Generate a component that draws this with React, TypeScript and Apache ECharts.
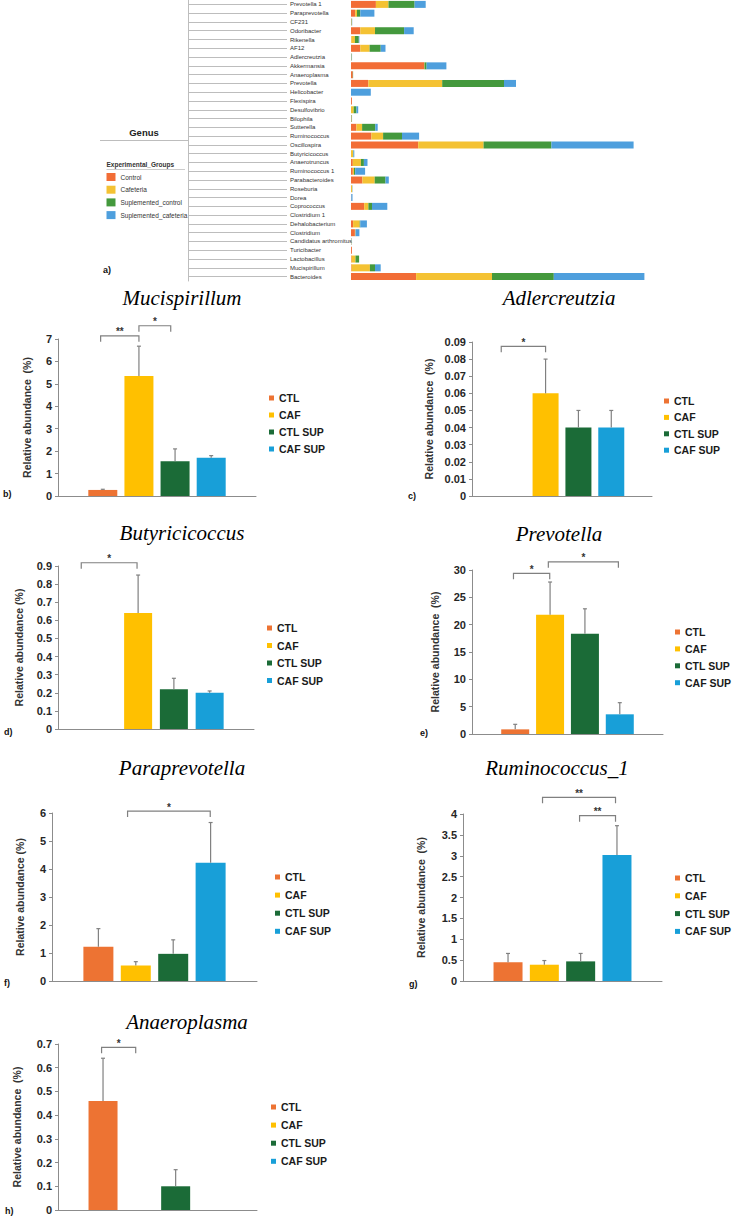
import React, { useEffect, useRef } from 'react';
import * as echarts from 'echarts';

// ---------- Panel a: stacked genus abundances ----------
const genera = ['Prevotella 1', 'Paraprevotella', 'CF231', 'Odoribacter', 'Rikenella', 'AF12', 'Adlercreutzia', 'Akkermansia', 'Anaeroplasma', 'Prevotella', 'Helicobacter', 'Flexispira', 'Desulfovibrio', 'Bilophila', 'Sutterella', 'Ruminococcus', 'Oscillospira', 'Butyricicoccus', 'Anaerotruncus', 'Ruminococcus 1', 'Parabacteroides', 'Roseburia', 'Dorea', 'Coprococcus', 'Clostridium 1', 'Dehalobacterium', 'Clostridium', 'Candidatus arthromitus', 'Turicibacter', 'Lactobacillus', 'Mucispirillum', 'Bacteroides'];
const genusControl = [8.3, 1.4, 0.1, 3.1, 0.1, 3.1, 0.05, 24.4, 0.6, 5.8, 0, 0.3, 0, 0.1, 1.8, 6.8, 22.4, 0, 0.6, 0.6, 3.8, 0, 0.1, 4.4, 0, 0.7, 1.3, 0.05, 0.3, 0.2, 0.2, 21.7];
const genusCafeteria = [4.2, 0.6, 0.1, 4.9, 1.2, 3.1, 0.1, 0.1, 0, 24.6, 0, 0, 0.9, 0.1, 1.9, 3.9, 21.8, 0.7, 2.7, 0.4, 4.1, 0.4, 0, 1.4, 0, 2.2, 0.2, 0.05, 0, 1.3, 6.1, 25.3];
const genusSupControl = [8.7, 1.1, 0.1, 9.7, 1.3, 3.7, 0.1, 0.7, 0.1, 20.6, 0, 0, 0.9, 0.1, 4.4, 6.3, 22.6, 0.1, 1.0, 0.4, 3.6, 0, 0, 1.2, 0, 0.2, 0, 0.05, 0, 1.2, 1.7, 20.6];
const genusSupCafeteria = [3.7, 4.7, 0.1, 3.2, 0.2, 1.6, 0.1, 6.6, 0, 4.0, 6.6, 0, 0.6, 0.05, 0.8, 5.7, 27.4, 0.3, 1.2, 3.3, 1.1, 0.1, 0.4, 5.1, 0, 2.2, 1.3, 0.05, 0, 0, 1.9, 30.2];
const experimentalGroups = ['Control', 'Cafeteria', 'Suplemented_control', 'Suplemented_cafeteria'];
const experimentalColors = ['#F26D36', '#F4C233', '#44993D', '#4E9FDD'];

// ---------- Panels b-h: group means and SD ----------
const groups = ['CTL', 'CAF', 'CTL SUP', 'CAF SUP'];
const groupColors = ['#ED7333', '#FFC000', '#1B6B37', '#189FD8'];

const mucispirillumMean = [0.27, 5.35, 1.55, 1.71];
const mucispirillumSd = [0.03, 1.33, 0.55, 0.09];
const mucispirillumSig: [number, number, number, string][] = [[-0.06, 1, 7.14, '**'], [1, 1.88, 7.59, '*']];

const adlercreutziaMean = [0, 0.06, 0.04, 0.04];
const adlercreutziaSd = [0, 0.02, 0.01, 0.01];
const adlercreutziaSig: [number, number, number, string][] = [[-0.35, 1, 0.0875, '*']];

const butyricicoccusMean = [0, 0.64, 0.22, 0.2];
const butyricicoccusSd = [0, 0.21, 0.06, 0.01];
const butyricicoccusSig: [number, number, number, string][] = [[-0.59, 0.97, 0.918, '*']];

const prevotellaMean = [0.85, 21.8, 18.35, 3.6];
const prevotellaSd = [0.92, 6.0, 4.55, 2.13];
const prevotellaSig: [number, number, number, string][] = [[-0.05, 0.99, 29.4, '*'], [0.95, 2.96, 31.5, '*']];

const paraprevotellaMean = [1.22, 0.55, 0.97, 4.22];
const paraprevotellaSd = [0.65, 0.14, 0.5, 1.44];
const paraprevotellaSig: [number, number, number, string][] = [[0.78, 2.99, 6.07, '*']];

const ruminococcus1Mean = [0.45, 0.39, 0.47, 3.02];
const ruminococcus1Sd = [0.21, 0.1, 0.19, 0.7];
const ruminococcus1Sig: [number, number, number, string][] = [[0.95, 2.96, 4.4, '**'], [1.97, 2.96, 3.96, '**']];

const anaeroplasmaMean = [0.46, 0, 0.1, 0];
const anaeroplasmaSd = [0.18, 0, 0.07, 0];
const anaeroplasmaSig: [number, number, number, string][] = [[-0.04, 0.9, 0.686, '*']];

const SANS = "'Liberation Sans', Arial, sans-serif";
const SERIF = "'Liberation Serif', 'Times New Roman', serif";
const AXIS_GRAY = '#8C8C8C';
const ERR_GRAY = '#808080';

interface Panel {
  title: string; titlePos: [number, number];
  mean: number[]; sd: number[]; sig: [number, number, number, string][];
  yMax: number; yInterval: number; yName: string; nameGap: number;
  grid: { left: number; top: number; width: number; height: number };
  legend: [number, number, number];
  letter: string; letterPos: [number, number];
}

const panels: Panel[] = [
  { title: 'Mucispirillum', titlePos: [182, 298], mean: mucispirillumMean, sd: mucispirillumSd, sig: mucispirillumSig, yMax: 7, yInterval: 1, yName: 'Relative abundance  (%)', nameGap: 26, grid: { left: 58, top: 339, width: 198, height: 157 }, legend: [279, 398, 17], letter: 'b)', letterPos: [3, 494] },
  { title: 'Adlercreutzia', titlePos: [559, 298], mean: adlercreutziaMean, sd: adlercreutziaSd, sig: adlercreutziaSig, yMax: 0.09, yInterval: 0.01, yName: 'Relative abundance  (%)', nameGap: 38, grid: { left: 472, top: 342, width: 180, height: 154 }, legend: [674, 401, 16.4], letter: 'c)', letterPos: [408, 496] },
  { title: 'Butyricicoccus', titlePos: [182, 533], mean: butyricicoccusMean, sd: butyricicoccusSd, sig: butyricicoccusSig, yMax: 0.9, yInterval: 0.1, yName: 'Relative abundance (%)', nameGap: 33.5, grid: { left: 58, top: 566, width: 196, height: 163 }, legend: [277, 628, 17.5], letter: 'd)', letterPos: [4, 732] },
  { title: 'Prevotella', titlePos: [559, 534], mean: prevotellaMean, sd: prevotellaSd, sig: prevotellaSig, yMax: 30, yInterval: 5, yName: 'Relative abundance  (%)', nameGap: 32, grid: { left: 472, top: 570, width: 191, height: 164 }, legend: [685, 632, 16.9], letter: 'e)', letterPos: [420, 733] },
  { title: 'Paraprevotella', titlePos: [182, 768], mean: paraprevotellaMean, sd: paraprevotellaSd, sig: paraprevotellaSig, yMax: 6, yInterval: 1, yName: 'Relative abundance (%)', nameGap: 27, grid: { left: 52, top: 813, width: 205, height: 168 }, legend: [285, 877, 18.1], letter: 'f)', letterPos: [4, 983] },
  { title: 'Ruminococcus_1', titlePos: [557, 768], mean: ruminococcus1Mean, sd: ruminococcus1Sd, sig: ruminococcus1Sig, yMax: 4, yInterval: 0.5, yName: 'Relative abundance  (%)', nameGap: 37, grid: { left: 463, top: 814, width: 199, height: 167 }, legend: [685, 878, 17.8], letter: 'g)', letterPos: [409, 984] },
  { title: 'Anaeroplasma', titlePos: [187, 1022], mean: anaeroplasmaMean, sd: anaeroplasmaSd, sig: anaeroplasmaSig, yMax: 0.7, yInterval: 0.1, yName: 'Relative abundance  (%)', nameGap: 36, grid: { left: 58, top: 1044, width: 199, height: 166 }, legend: [281, 1107, 18.1], letter: 'h)', letterPos: [5, 1211] },
];

const X_MIN = -1.24;
const X_MAX = 4.24;

function buildOption() {
  const title: any[] = [];
  const legend: any[] = [];
  const grid: any[] = [];
  const xAxis: any[] = [];
  const yAxis: any[] = [];
  const series: any[] = [];
  const graphic: any[] = [];

  // ---- panel a ----
  grid.push({ left: 351, top: 0, width: 300, height: 281 });
  xAxis.push({ gridIndex: 0, type: 'value', min: 0, max: 100, show: false });
  yAxis.push({
    gridIndex: 0, type: 'category', data: genera, inverse: true, position: 'left',
    axisLine: { show: false }, axisTick: { show: false }, splitLine: { show: false },
    axisLabel: { interval: 0, align: 'left', margin: 61, fontSize: 6, color: '#333', fontFamily: SANS },
  });
  yAxis.push({
    gridIndex: 0, type: 'category', data: genera, inverse: true, position: 'left', offset: 163,
    axisLine: { show: true, onZero: false, lineStyle: { color: '#BDBDBD', width: 1 } },
    axisTick: { show: true, inside: true, alignWithLabel: true, interval: 0, length: 99, lineStyle: { color: '#BDBDBD', width: 1 } },
    axisLabel: { show: false }, splitLine: { show: false },
  });
  const genusSeries = [genusControl, genusCafeteria, genusSupControl, genusSupCafeteria];
  genusSeries.forEach((vals, i) => {
    series.push({
      type: 'bar', name: experimentalGroups[i], stack: 'genus', xAxisIndex: 0, yAxisIndex: 0,
      data: vals, barWidth: 7, itemStyle: { color: experimentalColors[i] },
    });
  });
  legend.push({
    orient: 'vertical', left: 106.5, top: 173, itemWidth: 9, itemHeight: 8, itemGap: 4.7,
    padding: 0, selectedMode: false, icon: 'rect', data: experimentalGroups,
    textStyle: { fontSize: 6.5, color: '#333', fontFamily: SANS, lineHeight: 8 },
  });
  graphic.push(
    { type: 'text', x: 144, y: 132, style: { text: 'Genus', font: `bold 9.5px ${SANS}`, fill: '#222', align: 'center', verticalAlign: 'middle' } },
    { type: 'line', shape: { x1: 100, y1: 140.5, x2: 188, y2: 140.5 }, style: { stroke: '#BDBDBD', lineWidth: 1 } },
    { type: 'text', x: 106.5, y: 164.5, style: { text: 'Experimental_Groups', font: `bold 6.5px ${SANS}`, fill: '#333', align: 'left', verticalAlign: 'middle' } },
    { type: 'line', shape: { x1: 106.5, y1: 169.5, x2: 185, y2: 169.5 }, style: { stroke: '#CCCCCC', lineWidth: 1 } },
    { type: 'text', x: 103, y: 270, style: { text: 'a)', font: `bold 9px ${SANS}`, fill: '#111', align: 'left', verticalAlign: 'middle' } },
  );

  // ---- panels b-h ----
  panels.forEach((p, k) => {
    const gi = k + 1;
    const xi = k + 1;
    const yi = k + 2;
    const band = p.grid.width / (X_MAX - X_MIN);
    const barWidth = Math.round(band * 0.79);

    title.push({
      text: p.title, left: p.titlePos[0], top: p.titlePos[1], textAlign: 'center', textVerticalAlign: 'middle', padding: 0,
      textStyle: { fontFamily: SERIF, fontStyle: 'italic', fontWeight: 'normal', fontSize: 21, color: '#000' },
    });
    grid.push({ ...p.grid });
    xAxis.push({
      gridIndex: gi, type: 'value', min: X_MIN, max: X_MAX,
      axisLine: { show: true, onZero: false, lineStyle: { color: AXIS_GRAY, width: 1 } },
      axisTick: { show: false }, axisLabel: { show: false }, splitLine: { show: false },
    });
    yAxis.push({
      gridIndex: gi, type: 'value', min: 0, max: p.yMax, interval: p.yInterval,
      name: p.yName, nameLocation: 'middle', nameGap: p.nameGap,
      nameTextStyle: { fontSize: 10.5, fontWeight: 'bold', color: '#333', fontFamily: SANS },
      axisLine: { show: true, onZero: false, lineStyle: { color: AXIS_GRAY, width: 1 } },
      axisTick: { show: true, length: 3, lineStyle: { color: AXIS_GRAY } },
      axisLabel: { fontSize: 11, fontWeight: 'bold', color: '#262626', margin: 6, fontFamily: SANS },
      splitLine: { show: false },
    });
    groups.forEach((g, i) => {
      series.push({
        type: 'bar', name: g, xAxisIndex: xi, yAxisIndex: yi,
        data: [[i, p.mean[i]]], barWidth, barGap: '-100%',
        itemStyle: { color: groupColors[i] },
      });
    });
    // error bars (upper only)
    const errData = p.mean.map((m, i) => [i, m, m + p.sd[i]]).filter((d) => d[2] > d[1]);
    series.push({
      type: 'custom', name: 'err' + k, xAxisIndex: xi, yAxisIndex: yi, silent: true, z: 5,
      encode: { x: 0, y: [1, 2] },
      data: errData,
      renderItem: (params: any, api: any) => {
        const base = api.coord([api.value(0), api.value(1)]);
        const top = api.coord([api.value(0), api.value(2)]);
        const style = { stroke: ERR_GRAY, lineWidth: 1.2 };
        return {
          type: 'group',
          children: [
            { type: 'line', shape: { x1: base[0], y1: base[1], x2: top[0], y2: top[1] }, style },
            { type: 'line', shape: { x1: top[0] - 2, y1: top[1], x2: top[0] + 2, y2: top[1] }, style },
          ],
        };
      },
    });
    // significance brackets
    const sig = p.sig;
    series.push({
      type: 'custom', name: 'sig' + k, xAxisIndex: xi, yAxisIndex: yi, silent: true, z: 5,
      encode: { x: [0, 1], y: 2 },
      data: sig.map((s) => [s[0], s[1], s[2]]),
      renderItem: (params: any, api: any) => {
        const a = api.coord([api.value(0), api.value(2)]);
        const b = api.coord([api.value(1), api.value(2)]);
        const label = sig[params.dataIndex][3];
        return {
          type: 'group',
          children: [
            { type: 'polyline', shape: { points: [[a[0], a[1] + 6], [a[0], a[1]], [b[0], b[1]], [b[0], b[1] + 6]] }, style: { stroke: ERR_GRAY, lineWidth: 1.2, fill: 'none' } },
            { type: 'text', x: (a[0] + b[0]) / 2, y: a[1] - 4, style: { text: label, font: `bold 10px ${SANS}`, fill: '#333', align: 'center', verticalAlign: 'middle' } },
          ],
        };
      },
    });
    legend.push({
      orient: 'vertical', left: p.legend[0] - 10, top: p.legend[1] - 6,
      itemWidth: 5, itemHeight: 5, itemGap: p.legend[2] - 12, padding: 0,
      selectedMode: false, icon: 'rect', data: groups,
      textStyle: { fontSize: 10.5, fontWeight: 'bold', color: '#1a1a1a', fontFamily: SANS, lineHeight: 12 },
    });
    graphic.push({ type: 'text', x: p.letterPos[0], y: p.letterPos[1], style: { text: p.letter, font: `bold 9px ${SANS}`, fill: '#111', align: 'left', verticalAlign: 'middle' } });
  });

  return { animation: false, backgroundColor: '#ffffff', title, legend, grid, xAxis, yAxis, series, graphic };
}

export default function App() {
  const ref = useRef<HTMLDivElement>(null);
  useEffect(() => {
    if (!ref.current) return;
    const chart = echarts.init(ref.current, undefined, { renderer: 'svg' });
    chart.setOption(buildOption() as any);
    return () => chart.dispose();
  }, []);
  return <div ref={ref} style={{ position: 'absolute', left: 0, top: 0, width: 741, height: 1222, background: '#fff' }} />;
}
